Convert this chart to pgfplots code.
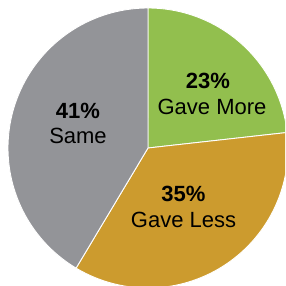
\documentclass[border=0pt]{standalone}
\usepackage{pgfplots}
\pgfplotsset{compat=1.18}
\usepackage{fontspec}
\setmainfont{Liberation Sans}
\definecolor{cgreen}{RGB}{146,191,78}
\definecolor{cgold}{RGB}{204,155,46}
\definecolor{cgray}{RGB}{147,148,152}
% values (percent)
\def\vA{23}\def\vB{35}\def\vC{41}
\begin{document}
\begin{tikzpicture}
\pgfmathsetmacro{\tot}{\vA+\vB+\vC}
\pgfmathsetmacro{\aA}{90}
\pgfmathsetmacro{\aB}{90-\vA/\tot*360}
\pgfmathsetmacro{\aC}{\aB-\vB/\tot*360}
\pgfmathsetmacro{\aD}{\aC-\vC/\tot*360}
\begin{axis}[width=285pt,height=286pt,scale only axis,hide axis,
  xmin=0,xmax=285,ymin=0,ymax=286,clip=true]
\addplot[fill=cgreen,draw=white,line width=0.9pt,domain=\aB:\aA,samples=90,variable=\t]
  ({148+140*cos(\t)},{138+140*sin(\t)}) -- (axis cs:148,138) -- cycle;
\addplot[fill=cgold,draw=white,line width=0.9pt,domain=\aC:\aB,samples=120,variable=\t]
  ({148+140*cos(\t)},{138+140*sin(\t)}) -- (axis cs:148,138) -- cycle;
\addplot[fill=cgray,draw=white,line width=0.9pt,domain=\aD:\aC,samples=140,variable=\t]
  ({148+140*cos(\t)},{138+140*sin(\t)}) -- (axis cs:148,138) -- cycle;
\begin{scope}[every node/.style={font=\fontsize{22}{26}\selectfont,anchor=base,inner sep=0pt}]
\node at (axis cs:208,197.7) {\textbf{23\%}};
\node at (axis cs:212,171) {Gave More};
\node at (axis cs:78,167.7) {\textbf{41\%}};
\node at (axis cs:78,142) {Same};
\node at (axis cs:183.5,84.3) {\textbf{35\%}};
\node at (axis cs:183.5,58.3) {Gave Less};
\end{scope}
\end{axis}
\pgfresetboundingbox
\path[use as bounding box] (current axis.south west) rectangle (current axis.north east);
\end{tikzpicture}
\end{document}
